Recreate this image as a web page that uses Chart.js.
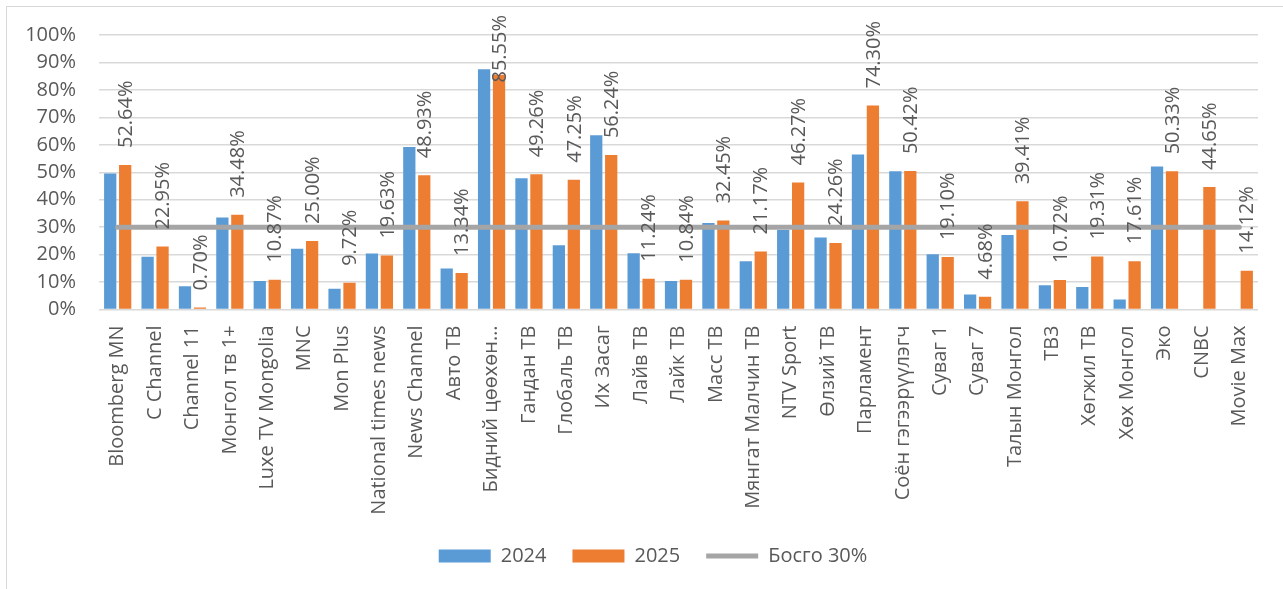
<!DOCTYPE html>
<html>
<head>
<meta charset="utf-8">
<script src="https://cdn.jsdelivr.net/npm/chart.js@4.4.1/dist/chart.umd.min.js"></script>
<style>
  body { margin: 0; background: #fff; }
  #frame { position: absolute; left: 6px; top: 6px; width: 1300px; height: 600px; border: 1px solid #D9D9D9; }
  #wrap { position: absolute; left: 0; top: 0; width: 1283px; height: 589px; }
</style>
</head>
<body>
<div id="frame"></div>
<div id="wrap"><canvas id="chart"></canvas></div>
<script>
const channels = [
  "Bloomberg MN", "C Channel", "Channel 11", "Монгол тв 1+", "Luxe TV Mongolia", "MNC",
  "Mon Plus", "National times news", "News Channel", "Авто ТВ", "Бидний цөөхөн…",
  "Гандан ТВ", "Глобаль ТВ", "Их Засаг", "Лайв ТВ", "Лайк ТВ", "Масс ТВ",
  "Мянгат Малчин ТВ", "NTV Sport", "Өлзий ТВ", "Парламент", "Соён гэгээрүүлэгч",
  "Суваг 1", "Суваг 7", "Талын Монгол", "ТВ3", "Хөгжил ТВ", "Хөх Монгол", "Эко",
  "CNBC", "Movie Max"
];
const share2024 = [49.5, 19.2, 8.5, 33.5, 10.4, 22.1, 7.6, 20.4, 59.2, 14.9, 87.5,
  47.8, 23.4, 63.5, 20.5, 10.4, 31.5, 17.6, 29.0, 26.2, 56.5, 50.4, 20.1, 5.5, 27.1,
  8.8, 8.2, 3.6, 52.1, null, null];
const share2025 = [52.64, 22.95, 0.70, 34.48, 10.87, 25.00, 9.72, 19.63, 48.93, 13.34, 85.55,
  49.26, 47.25, 56.24, 11.24, 10.84, 32.45, 21.17, 46.27, 24.26, 74.30, 50.42, 19.10, 4.68, 39.41,
  10.72, 19.31, 17.61, 50.33, 44.65, 14.12];
const threshold = [30, 30, 30, 30, 30, 30, 30, 30, 30, 30, 30, 30, 30, 30, 30, 30,
  30, 30, 30, 30, 30, 30, 30, 30, 30, 30, 30, 30, 30, 30, 30];
const seriesNames = ["2024", "2025", "Босго 30%"];

Chart.defaults.font.family = '"Open Sans", sans-serif';
Chart.defaults.font.size = 20;
Chart.defaults.color = "#595959";

// rotated value labels above the 2025 bars
const barLabels = {
  id: "barLabels",
  afterDatasetsDraw(chart) {
    const ctx = chart.ctx;
    const meta = chart.getDatasetMeta(1);
    ctx.save();
    ctx.font = '20px "Open Sans", sans-serif';
    ctx.fillStyle = "#595959";
    ctx.textAlign = "left";
    ctx.textBaseline = "middle";
    meta.data.forEach((bar, i) => {
      const v = share2025[i];
      if (v == null) return;
      const text = v.toFixed(2) + "%";
      const w = ctx.measureText(text).width;
      let start = bar.y - 17;
      if (start - w < 15) start = 15 + w;
      ctx.save();
      ctx.translate(bar.x + 1, start);
      ctx.rotate(-Math.PI / 2);
      ctx.fillText(text, 0, 0);
      ctx.restore();
    });
    ctx.restore();
  }
};

// fixed legend height, and nudge it right like the reference
const legendBox = {
  id: "legendBox",
  beforeLayout(chart) {
    const lg = chart.legend;
    if (lg && !lg._patched) {
      const fit = lg.fit;
      lg.fit = function () { fit.call(this); this.height = 69; };
      lg._patched = true;
    }
  },
  afterLayout(chart) {
    const lg = chart.legend;
    if (lg) { lg.left += 24; lg.right += 24; }
  }
};

new Chart(document.getElementById("chart"), {
  type: "bar",
  data: {
    labels: channels,
    datasets: [
      {
        label: seriesNames[0],
        data: share2024,
        backgroundColor: "#5B9BD5",
        borderWidth: 0,
        pointStyle: "rect",
        categoryPercentage: 0.8,
        barPercentage: 0.82
      },
      {
        label: seriesNames[1],
        data: share2025,
        backgroundColor: "#ED7D31",
        borderWidth: 0,
        pointStyle: "rect",
        categoryPercentage: 0.8,
        barPercentage: 0.82
      },
      {
        type: "line",
        label: seriesNames[2],
        data: threshold,
        borderColor: "#A5A5A5",
        backgroundColor: "#A5A5A5",
        borderWidth: 5,
        borderCapStyle: "round",
        pointRadius: 0,
        pointStyle: "line",
        tension: 0,
        order: -1
      }
    ]
  },
  options: {
    responsive: true,
    maintainAspectRatio: false,
    animation: false,
    layout: { padding: { left: 0, right: 25, top: 35, bottom: 0 } },
    plugins: {
      tooltip: { enabled: false },
      legend: {
        position: "bottom",
        labels: {
          usePointStyle: true,
          pointStyleWidth: 52,
          boxHeight: 13,
          padding: 26,
          color: "#595959",
          font: { size: 20 },
          sort: (a, b) => a.datasetIndex - b.datasetIndex
        }
      }
    },
    scales: {
      x: {
        grid: { display: false, drawTicks: false },
        border: { display: false },
        ticks: { minRotation: 90, maxRotation: 90, autoSkip: false, padding: 16, color: "#595959" },
        afterFit: (s) => { s.height = 210.5; }
      },
      y: {
        min: 0,
        max: 100,
        grid: { color: "#D9D9D9", lineWidth: 1.5, drawTicks: false },
        border: { display: false },
        ticks: { stepSize: 10, padding: 23, color: "#595959", callback: (v) => v + "%" },
        afterFit: (s) => { s.width = 99; }
      }
    }
  },
  plugins: [barLabels, legendBox]
});
</script>
</body>
</html>
